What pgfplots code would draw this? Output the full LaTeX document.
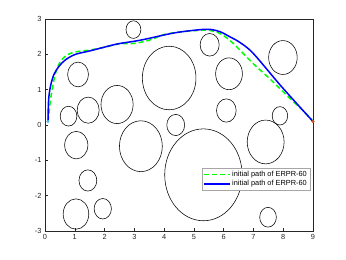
\documentclass[border=0pt]{standalone}
\usepackage{fontspec}
\setmainfont{Liberation Sans}
\usepackage{pgfplots}
\pgfplotsset{compat=1.18}
\definecolor{axgray}{RGB}{38,38,38}
\definecolor{startc}{RGB}{77,190,238}
\definecolor{endc}{RGB}{217,83,25}
\tikzset{obst/.style={black, line width=0.55pt}}
\begin{document}
\begin{tikzpicture}
\begin{axis}[
  scale only axis, width=268bp, height=212bp,
  xmin=0, xmax=9, ymin=-3, ymax=3,
  xtick={0,1,...,9}, ytick={-3,-2,...,3},
  tick align=inside, xtick pos=left, ytick pos=left,
  major tick length=3bp,
  axis line style={axgray, line width=0.5pt},
  tick style={axgray, line width=0.5pt},
  ticklabel style={font=\fontsize{7.4}{8}\selectfont, text=axgray},
  /pgf/number format/assume math mode=true,
  clip=false,
  legend style={at={(axis cs:8.9,-1.22)}, anchor=north east,
    font=\fontsize{7.4}{8}\selectfont, draw=black!35, fill=white,
    inner sep=1bp, row sep=-1.5bp, cells={anchor=west}},
  legend image code/.code={\draw[#1] (0bp,0bp) -- (26bp,0bp);},
]
\foreach \cx/\cy/\r in {
  2.97/2.70/0.25, 1.11/1.43/0.35, 0.79/0.25/0.28, 1.45/0.42/0.37,
  2.42/0.58/0.54, 4.17/1.33/0.90, 5.53/2.27/0.32, 6.18/1.45/0.45,
  7.99/1.91/0.48, 6.09/0.41/0.33, 7.89/0.26/0.26, 4.39/0.00/0.30,
  3.22/-0.60/0.72, 5.32/-1.41/1.30, 7.41/-0.48/0.62, 7.49/-2.61/0.28,
  1.05/-0.57/0.39, 1.44/-1.57/0.30, 1.04/-2.52/0.43, 1.94/-2.37/0.29}{
  \edef\tmp{\noexpand\draw[obst] (axis cs:\cx,\cy) circle [radius=\r];}\tmp
}
\addplot[color={rgb,255:red,0;green,255;blue,0}, line width=1.5bp, dash pattern=on 5bp off 3bp, smooth, tension=0.5] coordinates {
(0.1,0.1)(0.15,0.45)(0.19,0.75)(0.24,1.0)(0.35,1.46)(0.51,1.79)(0.74,1.98)(1.02,2.07)(1.5,2.12)(2.0,2.2)(2.5,2.3)(3.0,2.31)(3.5,2.4)(4.0,2.56)(4.5,2.63)(5.0,2.67)(5.5,2.68)(5.9,2.58)(6.32,2.31)(6.99,1.74)(7.56,1.3)(8.23,0.75)(8.7,0.38)(9,0.1)};
\addlegendentry{initial path of ERPR-60}
\addplot[color=blue, line width=1.5bp, smooth, tension=0.5] coordinates {
(0.1,0.1)(0.12,0.7)(0.18,1.08)(0.29,1.41)(0.46,1.65)(0.68,1.84)(1.02,2.0)(1.52,2.1)(2.41,2.29)(3.2,2.4)(4.3,2.6)(5.0,2.68)(5.5,2.71)(5.88,2.64)(6.2,2.5)(6.54,2.34)(6.99,2.03)(7.95,1.08)(9,0.1)};
\addlegendentry{initial path of ERPR-60}
\addplot[only marks, mark=*, mark size=1.3bp, color=startc, forget plot] coordinates {(0.1,0.1)};
\addplot[only marks, mark=*, mark size=1.3bp, color=endc, forget plot] coordinates {(9,0.1)};
\coordinate (O) at (rel axis cs:0,0);
\end{axis}
\pgfresetboundingbox
\path (O) ++(-45bp,-29bp) rectangle ++(346bp,260bp);
\end{tikzpicture}
\end{document}
